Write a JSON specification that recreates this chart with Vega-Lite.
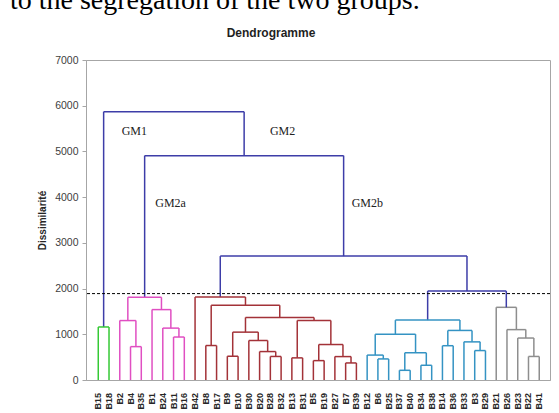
{
  "$schema": "https://vega.github.io/schema/vega-lite/v6.json",
  "width": 464,
  "height": 320,
  "autosize": {"type": "none"},
  "padding": {"left": 86, "top": 60, "right": 9, "bottom": 33},
  "background": "white",
  "config": {"view": {"stroke": "#A6A6A6", "strokeWidth": 1}, "axis": {"grid": false}},
  "datasets": {
    "nodes": [
      {"id": "G1", "grp": "green", "xl": 0, "xr": 1, "hl": 0, "hr": 0, "h": 1160},
      {"id": "P1", "grp": "pink", "xl": 3, "xr": 4, "hl": 0, "hr": 0, "h": 730},
      {"id": "P2", "grp": "pink", "xl": 2, "xr": 3.5, "hl": 0, "hr": 730, "h": 1300},
      {"id": "P3", "grp": "pink", "xl": 7, "xr": 8, "hl": 0, "hr": 0, "h": 940},
      {"id": "P4", "grp": "pink", "xl": 6, "xr": 7.5, "hl": 0, "hr": 940, "h": 1135},
      {"id": "P5", "grp": "pink", "xl": 5, "xr": 6.75, "hl": 0, "hr": 1135, "h": 1540},
      {"id": "P6", "grp": "pink", "xl": 2.75, "xr": 5.875, "hl": 1300, "hr": 1540, "h": 1810},
      {"id": "R1", "grp": "red", "xl": 10, "xr": 11, "hl": 0, "hr": 0, "h": 754},
      {"id": "R2", "grp": "red", "xl": 12, "xr": 13, "hl": 0, "hr": 0, "h": 520},
      {"id": "R3", "grp": "red", "xl": 16, "xr": 17, "hl": 0, "hr": 0, "h": 515},
      {"id": "R4", "grp": "red", "xl": 15, "xr": 16.5, "hl": 0, "hr": 515, "h": 622},
      {"id": "R5", "grp": "red", "xl": 14, "xr": 15.75, "hl": 0, "hr": 622, "h": 864},
      {"id": "R6", "grp": "red", "xl": 12.5, "xr": 14.875, "hl": 520, "hr": 864, "h": 1047},
      {"id": "R7", "grp": "red", "xl": 18, "xr": 19, "hl": 0, "hr": 0, "h": 484},
      {"id": "R8", "grp": "red", "xl": 20, "xr": 21, "hl": 0, "hr": 0, "h": 424},
      {"id": "R9", "grp": "red", "xl": 23, "xr": 24, "hl": 0, "hr": 0, "h": 373},
      {"id": "R10", "grp": "red", "xl": 22, "xr": 23.5, "hl": 0, "hr": 373, "h": 512},
      {"id": "R11", "grp": "red", "xl": 20.5, "xr": 22.75, "hl": 424, "hr": 512, "h": 776},
      {"id": "R12", "grp": "red", "xl": 18.5, "xr": 21.625, "hl": 484, "hr": 776, "h": 1303},
      {"id": "R13", "grp": "red", "xl": 13.6875, "xr": 20.0625, "hl": 1047, "hr": 1303, "h": 1369},
      {"id": "R14", "grp": "red", "xl": 10.5, "xr": 16.875, "hl": 754, "hr": 1369, "h": 1633},
      {"id": "R15", "grp": "red", "xl": 9, "xr": 13.6875, "hl": 0, "hr": 1633, "h": 1815},
      {"id": "B1", "grp": "blue", "xl": 26, "xr": 27, "hl": 0, "hr": 0, "h": 461},
      {"id": "B2", "grp": "blue", "xl": 25, "xr": 26.5, "hl": 0, "hr": 461, "h": 545},
      {"id": "B3", "grp": "blue", "xl": 28, "xr": 29, "hl": 0, "hr": 0, "h": 212},
      {"id": "B4", "grp": "blue", "xl": 30, "xr": 31, "hl": 0, "hr": 0, "h": 322},
      {"id": "B5", "grp": "blue", "xl": 28.5, "xr": 30.5, "hl": 212, "hr": 322, "h": 596},
      {"id": "B6", "grp": "blue", "xl": 25.75, "xr": 29.5, "hl": 545, "hr": 596, "h": 1003},
      {"id": "B7", "grp": "blue", "xl": 32, "xr": 33, "hl": 0, "hr": 0, "h": 750},
      {"id": "B8", "grp": "blue", "xl": 35, "xr": 36, "hl": 0, "hr": 0, "h": 644},
      {"id": "B9", "grp": "blue", "xl": 34, "xr": 35.5, "hl": 0, "hr": 644, "h": 834},
      {"id": "B10", "grp": "blue", "xl": 32.5, "xr": 34.75, "hl": 750, "hr": 834, "h": 1084},
      {"id": "B11", "grp": "blue", "xl": 27.625, "xr": 33.625, "hl": 1003, "hr": 1084, "h": 1310},
      {"id": "Y1", "grp": "grey", "xl": 40, "xr": 41, "hl": 0, "hr": 0, "h": 515},
      {"id": "Y2", "grp": "grey", "xl": 39, "xr": 40.5, "hl": 0, "hr": 515, "h": 918},
      {"id": "Y3", "grp": "grey", "xl": 38, "xr": 39.75, "hl": 0, "hr": 918, "h": 1102},
      {"id": "Y4", "grp": "grey", "xl": 37, "xr": 38.875, "hl": 0, "hr": 1102, "h": 1590},
      {"id": "U1", "grp": "purple", "xl": 30.625, "xr": 37.9375, "hl": 1310, "hr": 1590, "h": 1945},
      {"id": "U2", "grp": "purple", "xl": 11.34375, "xr": 34.28125, "hl": 1815, "hr": 1945, "h": 2710},
      {"id": "U3", "grp": "purple", "xl": 4.3125, "xr": 22.8125, "hl": 1810, "hr": 2710, "h": 4908},
      {"id": "U4", "grp": "purple", "xl": 0.5, "xr": 13.5625, "hl": 1160, "hr": 4908, "h": 5869}
    ],
    "leaves": [
      {"leaf": "B15", "pos": 0}, {"leaf": "B18", "pos": 1}, {"leaf": "B2", "pos": 2}, {"leaf": "B4", "pos": 3},
      {"leaf": "B35", "pos": 4}, {"leaf": "B1", "pos": 5}, {"leaf": "B24", "pos": 6}, {"leaf": "B11", "pos": 7},
      {"leaf": "B16", "pos": 8}, {"leaf": "B42", "pos": 9}, {"leaf": "B8", "pos": 10}, {"leaf": "B17", "pos": 11},
      {"leaf": "B9", "pos": 12}, {"leaf": "B10", "pos": 13}, {"leaf": "B30", "pos": 14}, {"leaf": "B20", "pos": 15},
      {"leaf": "B28", "pos": 16}, {"leaf": "B32", "pos": 17}, {"leaf": "B13", "pos": 18}, {"leaf": "B31", "pos": 19},
      {"leaf": "B5", "pos": 20}, {"leaf": "B19", "pos": 21}, {"leaf": "B27", "pos": 22}, {"leaf": "B7", "pos": 23},
      {"leaf": "B39", "pos": 24}, {"leaf": "B12", "pos": 25}, {"leaf": "B6", "pos": 26}, {"leaf": "B25", "pos": 27},
      {"leaf": "B37", "pos": 28}, {"leaf": "B40", "pos": 29}, {"leaf": "B34", "pos": 30}, {"leaf": "B38", "pos": 31},
      {"leaf": "B14", "pos": 32}, {"leaf": "B36", "pos": 33}, {"leaf": "B33", "pos": 34}, {"leaf": "B3", "pos": 35},
      {"leaf": "B29", "pos": 36}, {"leaf": "B21", "pos": 37}, {"leaf": "B26", "pos": 38}, {"leaf": "B23", "pos": 39},
      {"leaf": "B22", "pos": 40}, {"leaf": "B41", "pos": 41}
    ],
    "groups": [
      {"label": "GM1", "px": 2.18, "py": 5447},
      {"label": "GM2", "px": 15.96, "py": 5447},
      {"label": "GM2a", "px": 5.3, "py": 3865},
      {"label": "GM2b", "px": 23.56, "py": 3865}
    ],
    "doc": [
      {"line": "to the segregation of the two groups.", "px": -8.21, "py": 8105}
    ],
    "heading": [
      {"name": "Dendrogramme", "px": 16.06, "py": 7503}
    ],
    "cut": [{"level": 1890}]
  },
  "layer": [
    {
      "data": {"name": "nodes"},
      "mark": {"type": "rule", "strokeWidth": 1.5},
      "encoding": {
        "x": {"field": "xl", "type": "quantitative", "title": null,
              "scale": {"domain": [-1.14, 42], "nice": false, "zero": false},
              "axis": {"labels": false, "ticks": false, "domainColor": "#A6A6A6", "title": null}},
        "y": {"field": "hl", "type": "quantitative", "title": "Dissimilarité",
              "scale": {"domain": [0, 7000], "nice": false, "zero": false},
              "axis": {"values": [0, 1000, 2000, 3000, 4000, 5000, 6000, 7000], "format": "d", "title": "Dissimilarité",
                       "labelFont": "Liberation Sans", "labelFontSize": 10.5, "labelColor": "#404040",
                       "tickColor": "#A6A6A6", "tickSize": 4, "labelPadding": 4, "domainColor": "#A6A6A6",
                       "titleFont": "Liberation Sans", "titleFontSize": 10, "titleFontWeight": "bold", "titleColor": "#262626",
                       "titleX": -44, "titleY": 160, "titleAngle": 270, "titleAlign": "center", "titleBaseline": "middle"}},
        "y2": {"field": "h"},
        "color": {"field": "grp", "type": "nominal", "legend": null,
                  "scale": {"domain": ["green", "pink", "red", "blue", "grey", "purple"],
                            "range": ["#35C935", "#E04FC2", "#A33238", "#3493C3", "#8E8E8E", "#3D3DA8"]}}
      }
    },
    {
      "data": {"name": "nodes"},
      "mark": {"type": "rule", "strokeWidth": 1.5},
      "encoding": {
        "x": {"field": "xl", "type": "quantitative", "title": null, "scale": {"domain": [-1.14, 42], "nice": false, "zero": false}},
        "x2": {"field": "xr"},
        "y": {"field": "h", "type": "quantitative", "title": "Dissimilarité", "scale": {"domain": [0, 7000], "nice": false, "zero": false}},
        "color": {"field": "grp", "type": "nominal", "legend": null}
      }
    },
    {
      "data": {"name": "nodes"},
      "mark": {"type": "rule", "strokeWidth": 1.5},
      "encoding": {
        "x": {"field": "xr", "type": "quantitative", "title": null, "scale": {"domain": [-1.14, 42], "nice": false, "zero": false}},
        "y": {"field": "hr", "type": "quantitative", "title": "Dissimilarité", "scale": {"domain": [0, 7000], "nice": false, "zero": false}},
        "y2": {"field": "h"},
        "color": {"field": "grp", "type": "nominal", "legend": null}
      }
    },
    {
      "data": {"name": "cut"},
      "mark": {"type": "rule", "strokeDash": [3, 2], "color": "#000000", "strokeWidth": 1},
      "encoding": {
        "y": {"field": "level", "type": "quantitative", "title": "Dissimilarité", "scale": {"domain": [0, 7000], "nice": false, "zero": false}}
      }
    },
    {
      "data": {"name": "groups"},
      "mark": {"type": "text", "font": "Liberation Serif", "fontSize": 12, "color": "#222222", "align": "left", "baseline": "middle"},
      "encoding": {
        "x": {"field": "px", "type": "quantitative", "title": null, "scale": {"domain": [-1.14, 42], "nice": false, "zero": false}},
        "y": {"field": "py", "type": "quantitative", "title": "Dissimilarité", "scale": {"domain": [0, 7000], "nice": false, "zero": false}},
        "text": {"field": "label"}
      }
    },
    {
      "data": {"name": "leaves"},
      "mark": {"type": "text", "font": "Liberation Sans", "fontSize": 9, "fontWeight": "bold", "color": "#262626", "angle": 270, "align": "right", "baseline": "middle", "dx": -13},
      "encoding": {
        "x": {"field": "pos", "type": "quantitative", "title": null, "scale": {"domain": [-1.14, 42], "nice": false, "zero": false}},
        "y": {"datum": 0, "type": "quantitative", "scale": {"domain": [0, 7000], "nice": false, "zero": false}},
        "text": {"field": "leaf"}
      }
    },
    {
      "data": {"name": "heading"},
      "mark": {"type": "text", "font": "Liberation Sans", "fontSize": 12, "fontWeight": "bold", "color": "#1f1f1f", "align": "center", "baseline": "alphabetic"},
      "encoding": {
        "x": {"field": "px", "type": "quantitative", "title": null, "scale": {"domain": [-1.14, 42], "nice": false, "zero": false}},
        "y": {"field": "py", "type": "quantitative", "title": "Dissimilarité", "scale": {"domain": [0, 7000], "nice": false, "zero": false}},
        "text": {"field": "name"}
      }
    },
    {
      "data": {"name": "doc"},
      "mark": {"type": "text", "font": "Liberation Serif", "fontSize": 28, "color": "#000000", "align": "left", "baseline": "alphabetic"},
      "encoding": {
        "x": {"field": "px", "type": "quantitative", "title": null, "scale": {"domain": [-1.14, 42], "nice": false, "zero": false}},
        "y": {"field": "py", "type": "quantitative", "title": "Dissimilarité", "scale": {"domain": [0, 7000], "nice": false, "zero": false}},
        "text": {"field": "line"}
      }
    }
  ]
}
